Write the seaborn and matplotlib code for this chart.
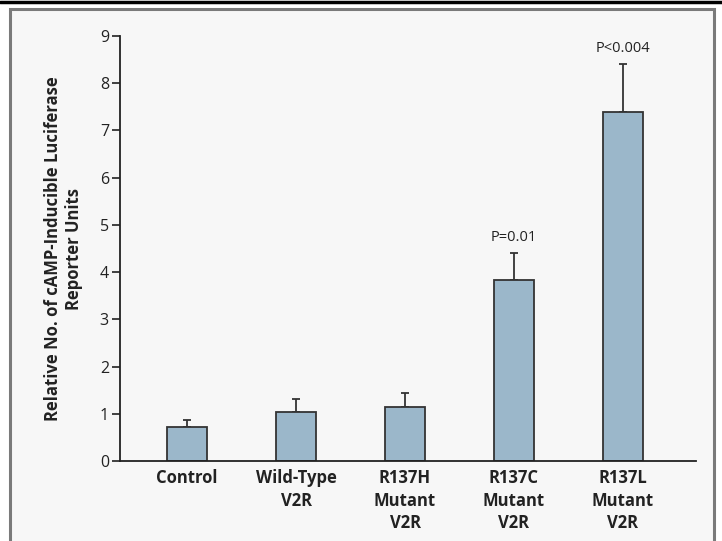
import pandas as pd
import matplotlib
matplotlib.use("Agg")
import matplotlib.pyplot as plt
import seaborn as sns
from matplotlib.patches import Rectangle
from matplotlib.lines import Line2D

# data
groups = ["Control", "Wild-Type\nV2R", "R137H\nMutant\nV2R", "R137C\nMutant\nV2R", "R137L\nMutant\nV2R"]
means = [0.73, 1.03, 1.15, 3.83, 7.40]
errs = [0.14, 0.29, 0.30, 0.57, 1.00]
pvals = ["", "", "", "P=0.01", "P<0.004"]

df = pd.DataFrame({"group": groups, "value": means})

sns.set_style("ticks")
plt.rcParams["font.family"] = ["Open Sans", "DejaVu Sans"]

fig = plt.figure(figsize=(7.22, 5.41), dpi=100)
fig.patch.set_facecolor("white")

# panel frame
fig.add_artist(Rectangle((10 / 722, -0.01), 704 / 722, 1 - 9 / 541 + 0.01, transform=fig.transFigure,
                         facecolor="#f7f7f7", edgecolor="#7a7a7a", linewidth=2.2, zorder=-2))
fig.add_artist(Line2D([0, 1], [1 - 1.5 / 541, 1 - 1.5 / 541], transform=fig.transFigure,
                      color="black", linewidth=2.5))

ax = fig.add_axes([120 / 722, 1 - 461 / 541, 576 / 722, (461 - 36) / 541])
ax.set_facecolor("none")

sns.barplot(data=df, x="group", y="value", color="#9bb7ca", saturation=1, edgecolor="#333333",
            linewidth=1.3, width=0.37, errorbar=None, ax=ax, zorder=2)

x = range(len(groups))
ax.errorbar(x, means, yerr=[[0] * len(errs), errs], fmt="none", ecolor="#333333",
            elinewidth=1.3, capsize=3, capthick=1.3, zorder=1)

for i, p in enumerate(pvals):
    if p:
        ax.text(i, means[i] + errs[i] + 0.18, p, ha="center", va="bottom",
                fontsize=10.5, color="#222222")

ax.set_ylim(0, 9)
ax.set_xlim(-0.615, 4.67)
ax.set_yticks(range(10))
ax.tick_params(axis="y", direction="out", length=6, width=1.2, labelsize=11.5, colors="#222222", pad=2)
ax.tick_params(axis="x", length=0, labelsize=12, pad=6)
for lab in ax.get_xticklabels():
    lab.set_fontweight("bold")
    lab.set_linespacing(1.3)
    lab.set_color("#222222")

ax.set_xlabel("")
ax.set_ylabel("Relative No. of cAMP-Inducible Luciferase\nReporter Units", fontsize=12,
              fontweight="bold", color="#222222", labelpad=12)

sns.despine(ax=ax)
for s in ["left", "bottom"]:
    ax.spines[s].set_linewidth(1.3)
    ax.spines[s].set_color("#222222")

fig.savefig("out.png", dpi=100, facecolor=fig.get_facecolor())
